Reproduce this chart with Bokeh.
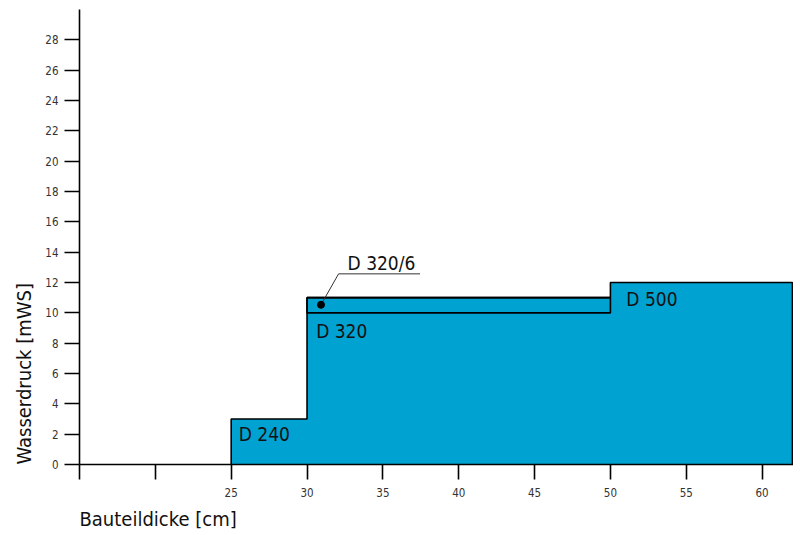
from bokeh.plotting import figure
from bokeh.models import FixedTicker, Title, Range1d
from bokeh.core.properties import value
from bokeh.embed import file_html
from bokeh.resources import INLINE

FONT = "DejaVu Sans Condensed"

# Data: water pressure classes by component thickness
classes = ["D 240", "D 320", "D 320/6", "D 500"]
thick_from = [25, 30, 30, 50]
thick_to = [30, 50, 50, 62]
press_low = [0, 0, 10, 0]
press_high = [3, 10, 11, 12]

# envelope breakpoints (outer limit of all classes)
env_x = [25, 30, 50, 62]
env_top = [3, 11, 12]

x_ticks = [15, 20, 25, 30, 35, 40, 45, 50, 55, 60]
y_ticks = [0, 2, 4, 6, 8, 10, 12, 14, 16, 18, 20, 22, 24, 26, 28]

# label positions (data units)
lab_text = ["D 240", "D 320", "D 500"]
lab_x = [25.5, 30.6, 51.05]
lab_y = [1.98, 8.83, 10.92]
callout_text = "D 320/6"
callout_pt = (30.92, 10.53)
callout_knee = (32.08, 12.57)
callout_end = (37.45, 12.57)
callout_lab = (32.67, 13.3)

FILL = "#00A2D2"

p = figure(width=793, height=535, output_backend="svg", toolbar_location=None,
           x_range=Range1d(15, 62.07), y_range=Range1d(0, 30),
           min_border_left=79, min_border_right=0, min_border_top=9, min_border_bottom=71)
p.outline_line_color = None
p.xgrid.visible = False
p.ygrid.visible = False
p.background_fill_color = "white"

# envelope polygon
xs = [env_x[0]]
ys = [0]
for i in range(len(env_top)):
    xs += [env_x[i], env_x[i + 1]]
    ys += [env_top[i], env_top[i]]
xs += [env_x[-1]]
ys += [0]
p.patch(xs, ys, fill_color=FILL, line_color=None)
p.line(xs, ys, line_color="black", line_width=1.6)

# D 320/6 band outline
i6 = classes.index("D 320/6")
p.quad(left=[thick_from[i6]], right=[thick_to[i6]], bottom=[press_low[i6]], top=[press_high[i6]],
       fill_color=None, line_color="black", line_width=1.6)

# labels
p.text(x=lab_x, y=lab_y, text=lab_text, text_font=value(FONT), text_font_size="19px",
       text_baseline="middle", text_align="left", text_color="#111111")
p.text(x=[callout_lab[0]], y=[callout_lab[1]], text=[callout_text], text_font=value(FONT),
       text_font_size="19px", text_baseline="middle", text_align="left", text_color="#111111")
p.line([callout_pt[0], callout_knee[0], callout_end[0]],
       [callout_pt[1], callout_knee[1], callout_end[1]], line_color="#333333", line_width=1)
p.scatter([callout_pt[0]], [callout_pt[1]], size=7, color="black")

# axes
for ax in (p.xaxis[0], p.yaxis[0]):
    ax.axis_line_color = "black"
    ax.axis_line_width = 1.6
    ax.major_tick_line_color = "black"
    ax.major_tick_line_width = 1.6
    ax.major_tick_out = 15
    ax.major_tick_in = 0
    ax.minor_tick_line_color = None
    ax.major_label_text_font = FONT
    ax.major_label_text_font_size = "11.5px"
    ax.major_label_text_color = "#333333"

p.xaxis.ticker = FixedTicker(ticks=x_ticks)
p.xaxis.major_label_overrides = {15: "", 20: ""}
p.xaxis.major_label_standoff = 8
p.yaxis.ticker = FixedTicker(ticks=y_ticks)
p.yaxis.major_label_standoff = 6

p.add_layout(Title(text="Bauteildicke [cm]", align="left", text_font=FONT,
                   text_font_size="20px", text_font_style="normal", text_color="#111111"), "below")
p.add_layout(Title(text="Wasserdruck [mWS]", align="left", text_font=FONT, standoff=14,
                   text_font_size="20px", text_font_style="normal", text_color="#111111"), "left")

open("out.html", "w").write(file_html(p, INLINE))
